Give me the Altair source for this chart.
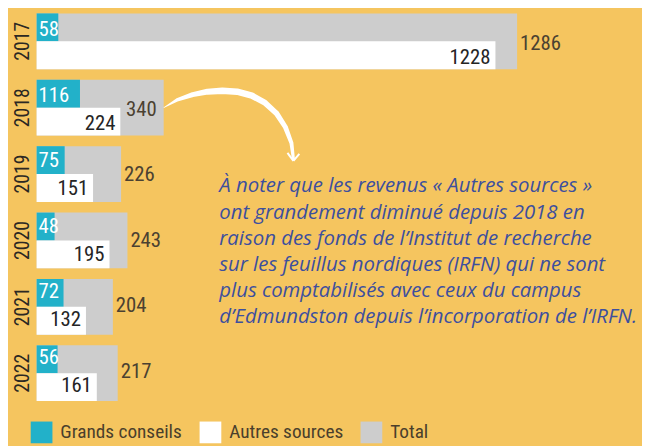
import altair as alt
import pandas as pd

years = ["2017", "2018", "2019", "2020", "2021", "2022"]
grands = [58, 116, 75, 48, 72, 56]
autres = [1228, 224, 151, 195, 132, 161]
totals = [1286, 340, 226, 243, 204, 217]
total_inside = [False, True, False, False, False, False]
series_names = ["Grands conseils", "Autres sources", "Total"]
colors = ["#22b1c9", "#ffffff", "#cdcdcd"]

note_lines = [
    "À noter que les revenus « Autres sources »",
    "ont grandement diminué depuis 2018 en",
    "raison des fonds de l’Institut de recherche",
    "sur les feuillus nordiques (IRFN) qui ne sont",
    "plus comptabilisés avec ceux du campus",
    "d’Edmundston depuis l’incorporation de l’IRFN.",
]

# decorative arrow path (plot pixels)
arrow_x = [129, 143, 158, 173, 188, 203, 218, 231, 243, 252, 258, 260]
arrow_y = [98, 90, 85, 82, 81, 82, 86, 93, 104, 118, 134, 150]
arrow_w = [0.8, 3.5, 5, 6, 6.5, 6.5, 6.5, 6, 5.5, 5, 4, 3]
head_x = [254, 260, 266, 260]
head_y = [144, 152, 145, 152]
head_id = ["a", "a", "b", "b"]

FONT = "Roboto Condensed, Roboto, sans-serif"
BG = "#f5c55f"
W, H = 611, 398
HALF = 14.1

grands_df = pd.DataFrame({"year": years, "series": series_names[0], "value": grands})
autres_df = pd.DataFrame({"year": years, "series": series_names[1], "value": autres})
tot = pd.DataFrame({"year": years, "series": series_names[2], "value": totals,
                    "inside": total_inside})

xscale = alt.Scale(domain=[0, 1615], nice=False, zero=False)
yscale = alt.Scale(domain=years, paddingInner=0.16, paddingOuter=0.04)
xenc = alt.X("value:Q", scale=xscale, axis=None)
yaxis = alt.Y(
    "year:N", scale=yscale,
    axis=alt.Axis(title=None, domain=False, ticks=False, tickSize=0, labelAngle=270,
                  labelAlign="center", labelBaseline="middle", labelPadding=14,
                  labelFont=FONT, labelFontSize=20, labelColor="#2b2823"),
)
yenc = alt.Y("year:N", scale=yscale, axis=None)
color = alt.Color(
    "series:N",
    scale=alt.Scale(domain=series_names, range=colors),
    legend=alt.Legend(title=None, orient="none", legendX=-6, legendY=416,
                      direction="horizontal", symbolType="square", symbolSize=484,
                      symbolStrokeWidth=0, symbolOpacity=1, labelFont=FONT,
                      labelFontSize=19.5, labelColor="#4a3f2c", labelOffset=8,
                      columnPadding=17, padding=0),
)

total_bars = alt.Chart(tot).mark_bar().encode(x=xenc, y=yaxis, color=color)
teal_bars = alt.Chart(grands_df).mark_bar(height={"band": 0.5}, yOffset=-HALF).encode(
    x=xenc, y=yenc, color=color)
white_bars = alt.Chart(autres_df).mark_bar(height={"band": 0.5}, yOffset=HALF).encode(
    x=xenc, y=yenc, color=color)

teal_labels = alt.Chart(grands_df).mark_text(
    align="left", baseline="middle", dx=2, dy=-HALF + 1, font=FONT, fontSize=21, color="white"
).encode(x=alt.value(0), y=yenc, text="value:Q")

white_labels = alt.Chart(autres_df).mark_text(
    align="right", baseline="middle", dx=-5, dy=HALF + 1, font=FONT, fontSize=21, color="#252525"
).encode(x=xenc, y=yenc, text="value:Q")

total_labels_out = alt.Chart(tot[~tot.inside]).mark_text(
    align="left", baseline="middle", dx=3, dy=1, font=FONT, fontSize=21, color="#4b4131"
).encode(x=xenc, y=yenc, text="value:Q")

total_labels_in = alt.Chart(tot[tot.inside]).mark_text(
    align="right", baseline="middle", dx=-7, dy=1, font=FONT, fontSize=21, color="#4b4131"
).encode(x=xenc, y=yenc, text="value:Q")

note = alt.Chart(pd.DataFrame({"note": ["\n".join(note_lines)]})).mark_text(
    align="left", baseline="alphabetic", lineBreak="\n", font="Open Sans",
    fontStyle="italic", fontSize=20.6, lineHeight=26.5, color="#3d4f9e"
).encode(x=alt.value(185), y=alt.value(184), text="note:N")

arrow_df = pd.DataFrame({"ax": arrow_x, "ay": arrow_y, "aw": arrow_w, "o": list(range(len(arrow_x)))})
px = alt.Scale(domain=[0, W], nice=False, zero=False)
py = alt.Scale(domain=[H, 0], nice=False, zero=False)
arrow = alt.Chart(arrow_df).mark_trail(color="white").encode(
    x=alt.X("ax:Q", scale=px, axis=None),
    y=alt.Y("ay:Q", scale=py, axis=None),
    size=alt.Size("aw:Q", scale=alt.Scale(domain=[0, 5], range=[0, 5]), legend=None),
    order="o:Q",
)
head_df = pd.DataFrame({"hx": head_x, "hy": head_y, "hid": head_id})
head = alt.Chart(head_df).mark_line(color="white", strokeWidth=2).encode(
    x=alt.X("hx:Q", scale=px, axis=None),
    y=alt.Y("hy:Q", scale=py, axis=None),
    detail="hid:N",
)

chart = alt.layer(
    total_bars, teal_bars, white_bars, teal_labels, white_labels,
    total_labels_out, total_labels_in, note, arrow, head
).resolve_scale(x="independent", y="independent").properties(
    width=W, height=H,
    autosize=alt.AutoSizeParams(type="none"),
    padding={"left": 29, "top": 0, "right": 2, "bottom": 40},
    background=BG,
).configure_view(stroke=None)

chart.save("out.html", embed_options={"renderer": "svg", "actions": False})
